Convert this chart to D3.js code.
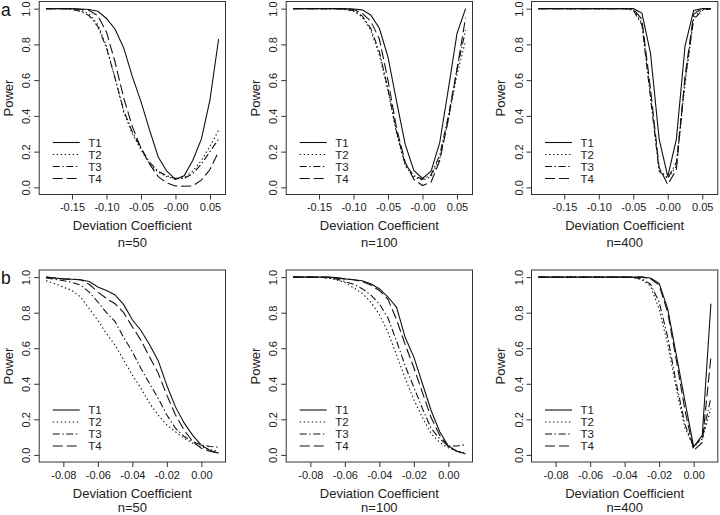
<!DOCTYPE html>
<html><head><meta charset="utf-8">
<script src="https://cdn.jsdelivr.net/npm/d3@7"></script>
<style>body{margin:0;background:#fff}</style>
</head><body><svg id="c" width="720" height="515"></svg>
<script>
// ---------- data ----------
const xTop = [-0.1875,-0.175,-0.1625,-0.15,-0.1375,-0.125,-0.1125,-0.1,-0.0875,-0.075,-0.0625,-0.05,-0.0375,-0.025,-0.0125,0,0.0125,0.025,0.0375,0.05,0.0625];
const xBot = [-0.09,-0.085,-0.08,-0.075,-0.07,-0.065,-0.06,-0.055,-0.05,-0.045,-0.04,-0.035,-0.03,-0.025,-0.02,-0.015,-0.01,-0.005,0,0.005,0.01];
const seriesNames = ["T1","T2","T3","T4"];
const sampleLabels = ["n=50","n=100","n=400"];
const panelTags = ["a","b"];
const topTicks = [-0.15,-0.10,-0.05,0,0.05];
const topTickLabels = ["-0.15","-0.10","-0.05","-0.00","0.05"];
const botTicks = [-0.08,-0.06,-0.04,-0.02,0];
const botTickLabels = ["-0.08","-0.06","-0.04","-0.02","0.00"];
const yTicks = [0,0.2,0.4,0.6,0.8,1.0];
const yTickLabels = ["0.0","0.2","0.4","0.6","0.8","1.0"];
const xTitle = "Deviation Coefficient";
const yTitle = "Power";

// panel a, n=50
const a50T1 = [1,1,1,1,0.998,0.995,0.985,0.945,0.885,0.78,0.62,0.48,0.32,0.17,0.09,0.045,0.065,0.15,0.27,0.49,0.83];
const a50T2 = [1,1,1,0.998,0.99,0.97,0.91,0.79,0.61,0.42,0.30,0.21,0.13,0.085,0.06,0.045,0.055,0.09,0.15,0.23,0.32];
const a50T3 = [1,1,1,0.995,0.985,0.96,0.90,0.78,0.61,0.43,0.31,0.22,0.14,0.09,0.065,0.05,0.05,0.075,0.13,0.2,0.27];
const a50T4 = [1,1,1,1,0.995,0.99,0.96,0.87,0.70,0.50,0.34,0.22,0.13,0.06,0.025,0.008,0.006,0.008,0.04,0.1,0.2];
// panel a, n=100
const a100T1 = [1,1,1,1,1,1,1,0.998,0.993,0.965,0.89,0.73,0.48,0.24,0.095,0.05,0.09,0.25,0.55,0.86,1.0];
const a100T2 = [1,1,1,1,1,1,0.995,0.985,0.955,0.88,0.74,0.54,0.30,0.12,0.06,0.04,0.06,0.16,0.38,0.63,0.82];
const a100T3 = [1,1,1,1,1,1,0.995,0.99,0.96,0.89,0.76,0.55,0.31,0.13,0.065,0.045,0.07,0.18,0.40,0.66,0.88];
const a100T4 = [1,1,1,1,1,1,1,0.995,0.975,0.93,0.83,0.6,0.33,0.14,0.045,0.01,0.03,0.15,0.38,0.66,0.95];
// panel a, n=400
const a400T1 = [1,1,1,1,1,1,1,1,1,1,1,1,0.975,0.75,0.27,0.06,0.27,0.79,0.99,1,1];
const a400T2 = [1,1,1,1,1,1,1,1,1,1,1,0.995,0.92,0.52,0.10,0.05,0.12,0.58,0.95,0.995,1];
const a400T3 = [1,1,1,1,1,1,1,1,1,1,1,0.99,0.91,0.50,0.09,0.05,0.14,0.60,0.94,0.99,1];
const a400T4 = [1,1,1,1,1,1,1,1,1,1,1,1,0.94,0.55,0.11,0.015,0.10,0.62,0.97,1,1];
// panel b, n=50
const b50T1 = [1.0,0.995,0.99,0.988,0.985,0.975,0.945,0.925,0.9,0.845,0.76,0.70,0.62,0.53,0.39,0.27,0.18,0.11,0.055,0.025,0.01];
const b50T2 = [0.98,0.963,0.944,0.925,0.888,0.822,0.757,0.682,0.617,0.533,0.449,0.374,0.29,0.224,0.168,0.13,0.093,0.065,0.045,0.03,0.02];
const b50T3 = [0.995,0.988,0.98,0.97,0.955,0.916,0.86,0.80,0.75,0.66,0.58,0.486,0.40,0.318,0.224,0.15,0.103,0.075,0.056,0.047,0.043];
const b50T4 = [1.0,0.995,0.99,0.988,0.985,0.96,0.916,0.88,0.85,0.80,0.72,0.645,0.55,0.46,0.336,0.224,0.14,0.075,0.037,0.02,0.01];
// panel b, n=100
const b100T1 = [1,1,1,1,1,0.997,0.99,0.985,0.98,0.963,0.935,0.888,0.83,0.66,0.55,0.40,0.25,0.13,0.05,0.02,0.005];
const b100T2 = [1,1,1,1,0.995,0.985,0.97,0.94,0.91,0.86,0.79,0.69,0.56,0.43,0.31,0.21,0.12,0.07,0.04,0.02,0.01];
const b100T3 = [1,1,1,1,0.995,0.99,0.975,0.96,0.935,0.9,0.85,0.77,0.64,0.5,0.38,0.26,0.15,0.09,0.05,0.05,0.058];
const b100T4 = [1,1,1,1,1,0.995,0.99,0.985,0.975,0.955,0.925,0.875,0.76,0.62,0.49,0.35,0.21,0.11,0.045,0.02,0.008];
// panel b, n=400
const b400T1 = [1,1,1,1,1,1,1,1,1,1,1,1,1,0.995,0.965,0.82,0.56,0.30,0.045,0.11,0.85];
const b400T2 = [1,1,1,1,1,1,1,1,1,1,1,0.997,0.985,0.95,0.82,0.62,0.37,0.15,0.045,0.09,0.26];
const b400T3 = [1,1,1,1,1,1,1,1,1,1,1,0.998,0.99,0.96,0.86,0.66,0.40,0.17,0.045,0.1,0.32];
const b400T4 = [1,1,1,1,1,1,1,1,1,1,1,1,1,0.99,0.955,0.8,0.53,0.25,0.025,0.07,0.55];

// ---------- layout ----------
const FONT = "'Liberation Sans', Arial, Helvetica, sans-serif";
const dashes = [null, "1.4,2.6", "7,2.6,1.4,2.6", "10,4"];
const colLeft = [39.2, 286.2, 531.5];
const boxW = 186.3;
const rows = [
  {top:1.5, bottom:194.5, domain:[-0.1975,0.0725], ticks:topTicks, labels:topTickLabels, xs:xTop,
   series:[[a50T1,a50T2,a50T3,a50T4],[a100T1,a100T2,a100T3,a100T4],[a400T1,a400T2,a400T3,a400T4]],
   tagY:16, nOff:52},
  {top:270, bottom:462, domain:[-0.094,0.014], ticks:botTicks, labels:botTickLabels, xs:xBot,
   series:[[b50T1,b50T2,b50T3,b50T4],[b100T1,b100T2,b100T3,b100T4],[b400T1,b400T2,b400T3,b400T4]],
   tagY:284, nOff:49.5}
];
const legOff = [-52,-40,-28,-16];

const svg = d3.select("#c").style("font-family", FONT);
const defs = svg.append("defs");

rows.forEach((row, ri) => {
  svg.append("text").attr("x", 1).attr("y", row.tagY).attr("font-size", 17.5).attr("fill", "#111").text(panelTags[ri]);
  row.series.forEach((ser, ci) => {
    const L = colLeft[ci], R = L + boxW;
    const x = d3.scaleLinear().domain(row.domain).range([L, R]);
    const y = d3.scaleLinear().domain([-0.04, 1.04]).range([row.bottom, row.top]);
    const g = svg.append("g");
    const cid = "clip" + ri + "_" + ci;
    defs.append("clipPath").attr("id", cid).append("rect")
      .attr("x", L).attr("y", row.top).attr("width", boxW).attr("height", row.bottom - row.top);

    // x axis
    const xa = g.append("g").attr("transform", `translate(0,${row.bottom})`)
      .call(d3.axisBottom(x).tickValues(row.ticks).tickFormat((d,i)=>row.labels[i]).tickSizeOuter(0).tickSize(5).tickPadding(4));
    xa.select(".domain").remove();
    xa.selectAll("line").attr("stroke", "#333");
    xa.selectAll("text").attr("font-size", 11).attr("font-family", FONT).attr("fill", "#222");

    // y axis
    const ya = g.append("g").attr("transform", `translate(${L},0)`)
      .call(d3.axisLeft(y).tickValues(yTicks).tickFormat((d,i)=>yTickLabels[i]).tickSizeOuter(0).tickSize(5));
    ya.select(".domain").remove();
    ya.selectAll("line").attr("stroke", "#333");
    ya.selectAll("text").attr("x", null).attr("dy", null)
      .attr("transform", "translate(-9,0) rotate(-90)").attr("text-anchor", "middle")
      .attr("font-size", 11).attr("font-family", FONT).attr("fill", "#222");

    // box
    g.append("rect").attr("x", L).attr("y", row.top).attr("width", boxW).attr("height", row.bottom - row.top)
      .attr("fill", "none").attr("stroke", "#333").attr("stroke-width", 1);

    // lines
    const line = d3.line().x((d,i)=>x(row.xs[i])).y(d=>y(d));
    ser.forEach((vals, si) => {
      g.append("path").attr("d", line(vals)).attr("clip-path", `url(#${cid})`)
        .attr("fill", "none").attr("stroke", "#111").attr("stroke-width", 1.1)
        .attr("stroke-dasharray", dashes[si]);
    });

    // legend
    seriesNames.forEach((nm, si) => {
      const ly = row.bottom + legOff[si];
      g.append("line").attr("x1", L + 13.5).attr("x2", L + 40.5).attr("y1", ly).attr("y2", ly)
        .attr("stroke", "#111").attr("stroke-width", 1.1).attr("stroke-dasharray", dashes[si]);
      g.append("text").attr("x", L + 49).attr("y", ly + 4).attr("font-size", 11.5).attr("fill", "#222").text(nm);
    });

    // titles
    const cx = (L + R) / 2;
    g.append("text").attr("x", cx).attr("y", row.bottom + 35.5).attr("text-anchor", "middle")
      .attr("font-size", 13).attr("fill", "#222").text(xTitle);
    g.append("text").attr("x", cx).attr("y", row.bottom + row.nOff).attr("text-anchor", "middle")
      .attr("font-size", 13).attr("fill", "#222").text(sampleLabels[ci]);
    g.append("text").attr("transform", `translate(${L - 26.5},${(row.top + row.bottom) / 2}) rotate(-90)`)
      .attr("text-anchor", "middle").attr("font-size", 13).attr("fill", "#222").text(yTitle);
  });
});
</script></body></html>
